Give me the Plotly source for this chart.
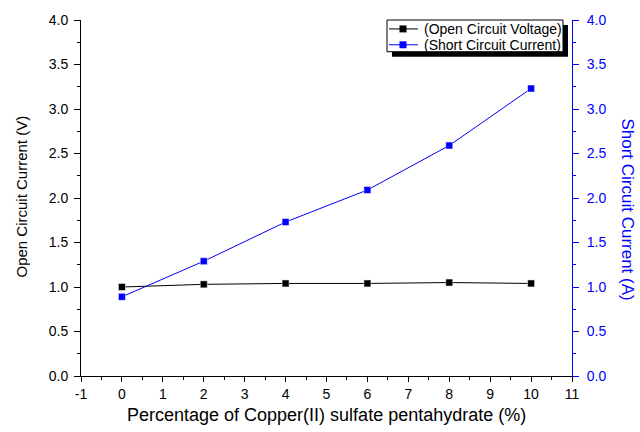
import plotly.graph_objects as go

# Copper(II) sulfate pentahydrate content (%)
percent = [0, 2, 4, 6, 8, 10]
# Open circuit voltage (V)
voc = [1.00, 1.03, 1.04, 1.04, 1.05, 1.04]
# Short circuit current (A)
isc = [0.89, 1.29, 1.73, 2.09, 2.59, 3.23]

y_ticks = [0.0, 0.5, 1.0, 1.5, 2.0, 2.5, 3.0, 3.5, 4.0]
x_ticks = list(range(-1, 12))
series_names = ["(Open Circuit Voltage)", "(Short Circuit Current)"]

FONT = "Liberation Sans, Arial, sans-serif"
BLUE = "#0000FF"
W, H = 640, 432
L, R, T, B = 81, 68, 17, 56
PW, PH = W - L - R, H - T - B


def px(xp):
    """Pixel column -> paper x."""
    return (xp - L) / PW


def py(yp):
    """Pixel row -> paper y."""
    return (H - B - yp) / PH


fig = go.Figure()

fig.add_trace(go.Scatter(
    x=percent, y=voc, name=series_names[0],
    mode="lines+markers",
    line=dict(color="black", width=1),
    marker=dict(symbol="square", size=7, color="black",
                line=dict(color="white", width=0.5)),
    xaxis="x", yaxis="y",
))
fig.add_trace(go.Scatter(
    x=percent, y=isc, name=series_names[1],
    mode="lines+markers",
    line=dict(color=BLUE, width=1),
    marker=dict(symbol="square", size=7, color=BLUE,
                line=dict(color="white", width=0.5)),
    xaxis="x", yaxis="y2",
))

# Framed legend with a drop shadow
shapes = [
    dict(type="rect", xref="paper", yref="paper",
         x0=px(392), x1=px(568), y0=py(54), y1=py(22),
         fillcolor="black", line=dict(width=0), layer="above"),
    dict(type="rect", xref="paper", yref="paper",
         x0=px(387), x1=px(563), y0=py(49), y1=py(17),
         fillcolor="white", line=dict(color="black", width=1), layer="above"),
]
annotations = []
for name, color, row in zip(series_names, ["black", BLUE], [26, 42]):
    shapes.append(dict(type="line", xref="paper", yref="paper",
                       x0=px(389), x1=px(418), y0=py(row), y1=py(row),
                       line=dict(color=color, width=1), layer="above"))
    shapes.append(dict(type="rect", xref="paper", yref="paper",
                       x0=px(399.5), x1=px(406.5), y0=py(row + 3.5), y1=py(row - 3.5),
                       fillcolor=color, line=dict(width=0), layer="above"))
    annotations.append(dict(text=name, xref="paper", yref="paper",
                            x=px(422), y=py(row), xanchor="left", yanchor="middle",
                            showarrow=False,
                            font=dict(family=FONT, size=14, color="black")))

# Axis titles
annotations += [
    dict(text="Percentage of Copper(II) sulfate pentahydrate (%)",
         xref="paper", yref="paper", x=0.5, y=0, yshift=-39,
         xanchor="center", yanchor="middle", showarrow=False,
         font=dict(family=FONT, size=18, color="black")),
    dict(text="Open Circuit Current (V)", textangle=-90,
         xref="paper", yref="paper", x=0, y=py(195), xshift=-59,
         xanchor="center", yanchor="middle", showarrow=False,
         font=dict(family=FONT, size=15, color="black")),
    dict(text="Short Circuit Current (A)", textangle=90,
         xref="paper", yref="paper", x=1, y=py(208), xshift=56,
         xanchor="center", yanchor="middle", showarrow=False,
         font=dict(family=FONT, size=17, color=BLUE)),
]

fig.update_layout(
    width=W, height=H,
    margin=dict(l=L, r=R, t=T, b=B),
    paper_bgcolor="white", plot_bgcolor="white",
    font=dict(family=FONT, size=14, color="black"),
    showlegend=False,
    xaxis=dict(
        range=[-1, 11], tickvals=x_ticks, ticktext=[str(v) for v in x_ticks],
        showgrid=False, zeroline=False,
        showline=True, linecolor="black", linewidth=1,
        ticks="outside", ticklen=5, tickcolor="black",
        minor=dict(ticks="outside", ticklen=3, dtick=0.5, tickcolor="black"),
        tickfont=dict(size=14),
    ),
    xaxis2=dict(
        range=[-1, 11], overlaying="x", side="top", anchor="y",
        showgrid=False, zeroline=False, showticklabels=False,
        showline=True, linecolor="black", linewidth=1,
        ticks="inside", ticklen=4, dtick=1, tick0=-1, tickcolor="black",
        minor=dict(ticks="inside", ticklen=4, dtick=0.5, tickcolor="black"),
    ),
    yaxis=dict(
        range=[0, 4.0], tickvals=y_ticks,
        ticktext=[f"{v:.1f}" for v in y_ticks],
        showgrid=False, zeroline=False,
        showline=True, linecolor="black", linewidth=1,
        ticks="outside", ticklen=6, tickcolor="black",
        minor=dict(ticks="outside", ticklen=3, dtick=0.25, tickcolor="black"),
        tickfont=dict(size=14), ticklabelstandoff=3,
    ),
    yaxis2=dict(
        range=[0, 4.0], overlaying="y", side="right", anchor="x",
        tickvals=y_ticks, ticktext=[f"{v:.1f}" for v in y_ticks],
        showgrid=False, zeroline=False,
        showline=True, linecolor=BLUE, linewidth=1,
        ticks="outside", ticklen=6, tickcolor=BLUE,
        minor=dict(ticks="outside", ticklen=3, dtick=0.25, tickcolor=BLUE),
        tickfont=dict(size=14, color=BLUE), ticklabelstandoff=5,
    ),
    annotations=annotations,
    shapes=shapes,
)

fig.write_html("out.html")
